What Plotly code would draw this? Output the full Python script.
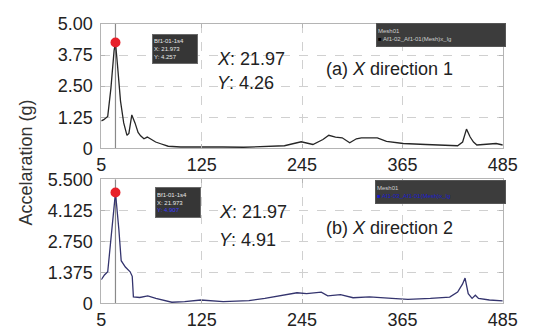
import plotly.graph_objects as go

# ---- data ----
freq_a = [5, 8, 12.7, 16.5, 20.3, 21.97, 24.2, 28, 31.8, 35.7, 38, 41.5, 45.3, 49, 52, 56, 60, 65,
          70, 76, 85, 100, 125, 150, 175, 200, 224, 244, 258, 270, 277, 285, 293, 302, 310, 316,
          335, 346, 366, 393, 431, 437, 441.6, 446, 450, 454, 465, 477, 485]
acc_a = [1.1, 1.15, 1.28, 2.41, 3.93, 4.26, 3.42, 1.9, 1.02, 0.52, 0.6, 1.34, 1.02, 0.64, 0.5, 0.38,
         0.45, 0.35, 0.25, 0.18, 0.08, 0.05, 0.06, 0.05, 0.04, 0.07, 0.1, 0.26, 0.15, 0.35, 0.52,
         0.45, 0.42, 0.22, 0.38, 0.42, 0.42, 0.28, 0.19, 0.15, 0.1, 0.25, 0.77, 0.45, 0.25, 0.13,
         0.15, 0.19, 0.13]

freq_b = [5, 8.8, 12.7, 16.5, 21.97, 26, 28.8, 33.8, 39.5, 42, 43.4, 51, 60.6, 70.2, 89.4, 104.7,
          124, 150.8, 181.5, 200.6, 223.6, 239, 250.5, 268, 275.7, 291, 306, 325.6, 352.5, 371.6,
          398.5, 421.5, 431, 436.8, 439.9, 443.7, 448.3, 452.2, 456, 469, 485]
acc_b = [1.05, 1.26, 1.4, 2.72, 4.91, 3.28, 1.89, 1.61, 1.4, 1.2, 0.29, 0.26, 0.33, 0.22, 0.05, 0.08,
         0.15, 0.08, 0.12, 0.22, 0.39, 0.47, 0.43, 0.5, 0.33, 0.39, 0.25, 0.29, 0.22, 0.18, 0.22,
         0.28, 0.5, 0.85, 1.12, 0.43, 0.22, 0.36, 0.22, 0.15, 0.11]

peak_x = 21.97
peak_a = 4.26
peak_b = 4.91

x_ticks = [5, 125, 245, 365, 485]
y_ticks_a = [0, 1.25, 2.5, 3.75, 5.0]
y_text_a = ["0", "1.25", "2.50", "3.75", "5.00"]
y_ticks_b = [0, 1.375, 2.75, 4.125, 5.5]
y_text_b = ["0", "1.375", "2.750", "4.125", "5.500"]

FONT = "Liberation Sans, Arial, sans-serif"
W, H = 538, 335


def px_x(p):
    return p / W


def px_y(p):
    return 1 - p / H


fig = go.Figure()

# cursor lines
fig.add_trace(go.Scatter(x=[peak_x, peak_x], y=[0, 5.0], mode="lines",
                         line=dict(color="#8a8a8a", width=1.2), xaxis="x", yaxis="y",
                         hoverinfo="skip"))
fig.add_trace(go.Scatter(x=[peak_x, peak_x], y=[0, 5.5], mode="lines",
                         line=dict(color="#8a8a8a", width=1.2), xaxis="x2", yaxis="y2",
                         hoverinfo="skip"))

fig.add_trace(go.Scatter(x=freq_a, y=acc_a, mode="lines",
                         line=dict(color="#262626", width=1.3), xaxis="x", yaxis="y"))
fig.add_trace(go.Scatter(x=freq_b, y=acc_b, mode="lines",
                         line=dict(color="#34346e", width=1.3), xaxis="x2", yaxis="y2"))

fig.add_trace(go.Scatter(x=[peak_x], y=[peak_a], mode="markers",
                         marker=dict(color="#e8202a", size=10), xaxis="x", yaxis="y"))
fig.add_trace(go.Scatter(x=[peak_x], y=[peak_b], mode="markers",
                         marker=dict(color="#e8202a", size=10), xaxis="x2", yaxis="y2"))

xdom = [px_x(100), px_x(517)]
common = dict(showline=True, linecolor="#b4b4b4", linewidth=1, mirror="ticks",
              ticks="inside", ticklen=4, tickcolor="#b4b4b4",
              showgrid=True, gridcolor="#d0d0d0", griddash="dash", gridwidth=1,
              zeroline=False, tickfont=dict(family=FONT, size=18, color="#222"))

fig.update_layout(
    width=W, height=H, margin=dict(l=0, r=0, t=0, b=0),
    plot_bgcolor="white", paper_bgcolor="white", showlegend=False,
    xaxis=dict(domain=xdom, anchor="y", range=[5, 485], tickvals=x_ticks,
               ticktext=[str(v) for v in x_ticks], **common),
    yaxis=dict(domain=[px_y(147), px_y(15)], anchor="x", range=[0, 5.0],
               tickvals=y_ticks_a, ticktext=y_text_a, ticklabelstandoff=4, **common),
    xaxis2=dict(domain=xdom, anchor="y2", range=[5, 485], tickvals=x_ticks,
                ticktext=[str(v) for v in x_ticks], **common),
    yaxis2=dict(domain=[px_y(312), px_y(180)], anchor="x2", range=[0, 5.5],
                tickvals=y_ticks_b, ticktext=y_text_b, ticklabelstandoff=4, **common),
)

ann = []
txt = dict(family=FONT, size=18, color="#222")
# value labels
ann.append(dict(x=140.8, y=3.6, xref="x", yref="y", text="<i>X</i>: 21.97", showarrow=False,
                xanchor="left", yanchor="middle", font=txt))
ann.append(dict(x=140.8, y=2.61, xref="x", yref="y", text="<i>Y</i>: 4.26", showarrow=False,
                xanchor="left", yanchor="middle", font=txt))
ann.append(dict(x=271.6, y=3.18, xref="x", yref="y", text="(a) <i>X</i> direction 1",
                showarrow=False, xanchor="left", yanchor="middle", font=txt))
ann.append(dict(x=143, y=4.04, xref="x2", yref="y2", text="<i>X</i>: 21.97", showarrow=False,
                xanchor="left", yanchor="middle", font=txt))
ann.append(dict(x=143, y=2.79, xref="x2", yref="y2", text="<i>Y</i>: 4.91", showarrow=False,
                xanchor="left", yanchor="middle", font=txt))
ann.append(dict(x=271.6, y=3.33, xref="x2", yref="y2", text="(b) <i>X</i> direction 2",
                showarrow=False, xanchor="left", yanchor="middle", font=txt))

# y-axis title
ann.append(dict(x=px_x(22), y=px_y(162), xref="paper", yref="paper", text="Accelaration (g)",
                textangle=-90, showarrow=False, xanchor="center", yanchor="middle",
                font=dict(family=FONT, size=18, color="#333")))

# data tips
tip_font = dict(family=FONT, size=6, color="#e8e8e8")
ann.append(dict(x=px_x(177), y=px_y(42), xref="paper", yref="paper",
                text="Bf1-01-1s4<br>X: 21.973<br>Y: 4.257", showarrow=False,
                xanchor="center", yanchor="middle",
                bgcolor="#363636", bordercolor="#6a6a6a", borderwidth=1, borderpad=1,
                width=42, height=26, align="left", font=tip_font))
ann.append(dict(x=px_x(179.5), y=px_y(204.5), xref="paper", yref="paper",
                text="Bf1-01-1s4<br>X: 21.973<br><span style='color:#3a3aff'>Y: 4.907</span>",
                showarrow=False, xanchor="center", yanchor="middle",
                bgcolor="#363636", bordercolor="#6a6a6a", borderwidth=1, borderpad=1,
                width=42, height=27, align="left", font=tip_font))

# legend boxes
leg_font = dict(family=FONT, size=6, color="#cfcfcf")
ann.append(dict(x=px_x(452.5), y=px_y(26.5), xref="paper", yref="paper",
                text="Mesh01<br><span style='color:#000'>■</span> Af1-02_Af1-01(Mesh)x_lg",
                showarrow=False, xanchor="center", yanchor="middle",
                bgcolor="#3c3c3c", bordercolor="#555", borderwidth=1,
                width=126, height=20, align="left", font=leg_font))
ann.append(dict(x=px_x(452), y=px_y(193.5), xref="paper", yref="paper",
                text="Mesh01<br><span style='color:#1a1ad0'>■ Af1-03_Af1-01(Mesh)x_lg</span>",
                showarrow=False, xanchor="center", yanchor="middle",
                bgcolor="#3c3c3c", bordercolor="#555", borderwidth=1,
                width=127, height=20, align="left", font=leg_font))

fig.update_layout(annotations=ann)
fig.write_html("out.html")
